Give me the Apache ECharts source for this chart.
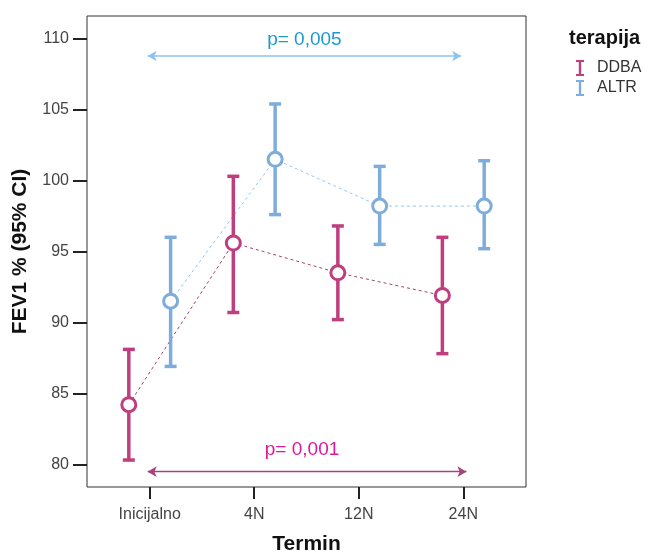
<!DOCTYPE html>
<html>
<head>
<meta charset="utf-8">
<script src="https://cdn.jsdelivr.net/npm/echarts@6/dist/echarts.min.js"></script>
<style>
  html, body { margin: 0; padding: 0; background: #fff; }
  #chart { width: 648px; height: 552px; }
</style>
</head>
<body>
<div id="chart"></div>
<script>
// FEV1 % mean with 95% CI per visit, for the two therapy groups
const terms = ['Inicijalno', '4N', '12N', '24N'];
const termPos = [1, 2, 3, 4];

const ddbaMean = [84.2, 95.6, 93.5, 91.9];
const ddbaLow  = [80.3, 90.7, 90.2, 87.8];
const ddbaHigh = [88.1, 100.3, 96.8, 96.0];

const altrMean = [91.5, 101.5, 98.2, 98.2];
const altrLow  = [86.9, 97.6, 95.5, 95.2];
const altrHigh = [96.0, 105.4, 101.0, 101.4];

const yTicks = [80, 85, 90, 95, 100, 105, 110];
const pAltr = 'p= 0,005';
const pDdba = 'p= 0,001';

const C_DDBA = '#bf3f7e';
const C_ALTR = '#7eaddb';
const SHIFT = 0.2;
const FONT = '"Liberation Sans", Arial, sans-serif';

function shifted(d) { return termPos.map(p => p + d); }
const xD = shifted(-SHIFT), xA = shifted(SHIFT);

function errorBars(color) {
  return function (params, api) {
    const x = api.value(0);
    const top = api.coord([x, api.value(2)]);
    const bot = api.coord([x, api.value(1)]);
    const hw = 6;
    const st = { stroke: color, lineWidth: 3.5 };
    return {
      type: 'group',
      children: [
        { type: 'line', shape: { x1: top[0], y1: top[1], x2: bot[0], y2: bot[1] }, style: st },
        { type: 'line', shape: { x1: top[0] - hw, y1: top[1], x2: top[0] + hw, y2: top[1] }, style: st },
        { type: 'line', shape: { x1: bot[0] - hw, y1: bot[1], x2: bot[0] + hw, y2: bot[1] }, style: st }
      ]
    };
  };
}

const ibeam = 'path://M0,0H10V2.5H6.5V17.5H10V20H0V17.5H3.5V2.5H0Z';

const chart = echarts.init(document.getElementById('chart'), null, { renderer: 'canvas' });

chart.setOption({
  animation: false,
  textStyle: { fontFamily: FONT },
  grid: {
    left: 87, right: 122, top: 16, bottom: 65,
    outerBoundsMode: 'none', containLabel: false,
    show: true, borderColor: '#333', borderWidth: 1, backgroundColor: 'transparent'
  },
  legend: {
    orient: 'vertical', left: 571, top: 55, itemGap: 4,
    itemWidth: 8, itemHeight: 19,
    textStyle: { fontSize: 16, color: '#333', fontFamily: FONT, padding: [0, 0, 0, 8] },
    data: [
      { name: 'DDBA', icon: ibeam, itemStyle: { color: C_DDBA } },
      { name: 'ALTR', icon: ibeam, itemStyle: { color: C_ALTR } }
    ]
  },
  graphic: [{
    type: 'text', left: 569, top: 28,
    style: { text: 'terapija', font: 'bold 20px ' + FONT, fill: '#111' }
  }],
  xAxis: {
    type: 'value', min: 0.4, max: 4.6,
    name: 'Termin', nameLocation: 'middle', nameGap: 47,
    nameTextStyle: { fontSize: 21, fontWeight: 'bold', color: '#111' },
    splitLine: { show: false },
    axisLine: { show: false },
    axisTick: { show: true, length: 12, customValues: termPos, lineStyle: { color: '#222', width: 2 } },
    axisLabel: {
      customValues: termPos, margin: 20, fontSize: 16, color: '#444',
      formatter: v => { const i = termPos.indexOf(Math.round(v * 100) / 100); return i >= 0 ? terms[i] : ''; }
    }
  },
  yAxis: {
    type: 'value', min: 78.4, max: 111.6,
    name: 'FEV1 % (95% CI)', nameLocation: 'middle', nameGap: 56,
    nameTextStyle: { fontSize: 21, fontWeight: 'bold', color: '#111' },
    splitLine: { show: false },
    axisLine: { show: false },
    axisTick: { show: true, length: 14, customValues: yTicks, lineStyle: { color: '#222', width: 2 } },
    axisLabel: { customValues: yTicks, margin: 18, fontSize: 16, color: '#444' }
  },
  series: [
    {
      name: 'DDBA', type: 'line', z: 2,
      data: xD.map((x, i) => [x, ddbaMean[i]]),
      showSymbol: false, symbol: 'none',
      lineStyle: { color: '#a4426f', width: 1, type: [3, 3] },
      markLine: {
        silent: true, symbol: ['arrow', 'arrow'], symbolSize: [8, 9],
        lineStyle: { color: '#a4457a', width: 1.3, type: 'solid' },
        label: { show: true, position: 'middle', formatter: pDdba, color: '#e0189b', fontSize: 19, distance: 12, offset: [-5, 0] },
        data: [[{ coord: [0.98, 79.48] }, { coord: [4.03, 79.48] }]]
      }
    },
    {
      name: 'ALTR', type: 'line', z: 2,
      data: xA.map((x, i) => [x, altrMean[i]]),
      showSymbol: false, symbol: 'none',
      lineStyle: { color: '#8ec8f4', width: 1, type: [3, 3] },
      markLine: {
        silent: true, symbol: ['arrow', 'arrow'], symbolSize: [8, 9],
        lineStyle: { color: '#8ec4ef', width: 1.5, type: 'solid' },
        label: { show: true, position: 'middle', formatter: pAltr, color: '#1c9ad0', fontSize: 19, distance: 7 },
        data: [[{ coord: [0.98, 108.78] }, { coord: [3.98, 108.78] }]]
      }
    },
    {
      name: 'DDBA', type: 'custom', z: 3,
      renderItem: errorBars(C_DDBA),
      encode: { x: 0, y: [1, 2] },
      data: xD.map((x, i) => [x, ddbaLow[i], ddbaHigh[i]])
    },
    {
      name: 'ALTR', type: 'custom', z: 3,
      renderItem: errorBars(C_ALTR),
      encode: { x: 0, y: [1, 2] },
      data: xA.map((x, i) => [x, altrLow[i], altrHigh[i]])
    },
    {
      name: 'DDBA', type: 'scatter', z: 4,
      symbol: 'circle', symbolSize: 14,
      itemStyle: { color: '#fff', borderColor: C_DDBA, borderWidth: 3, opacity: 1 },
      data: xD.map((x, i) => [x, ddbaMean[i]])
    },
    {
      name: 'ALTR', type: 'scatter', z: 4,
      symbol: 'circle', symbolSize: 14,
      itemStyle: { color: '#fff', borderColor: C_ALTR, borderWidth: 3, opacity: 1 },
      data: xA.map((x, i) => [x, altrMean[i]])
    }
  ]
});
</script>
</body>
</html>
